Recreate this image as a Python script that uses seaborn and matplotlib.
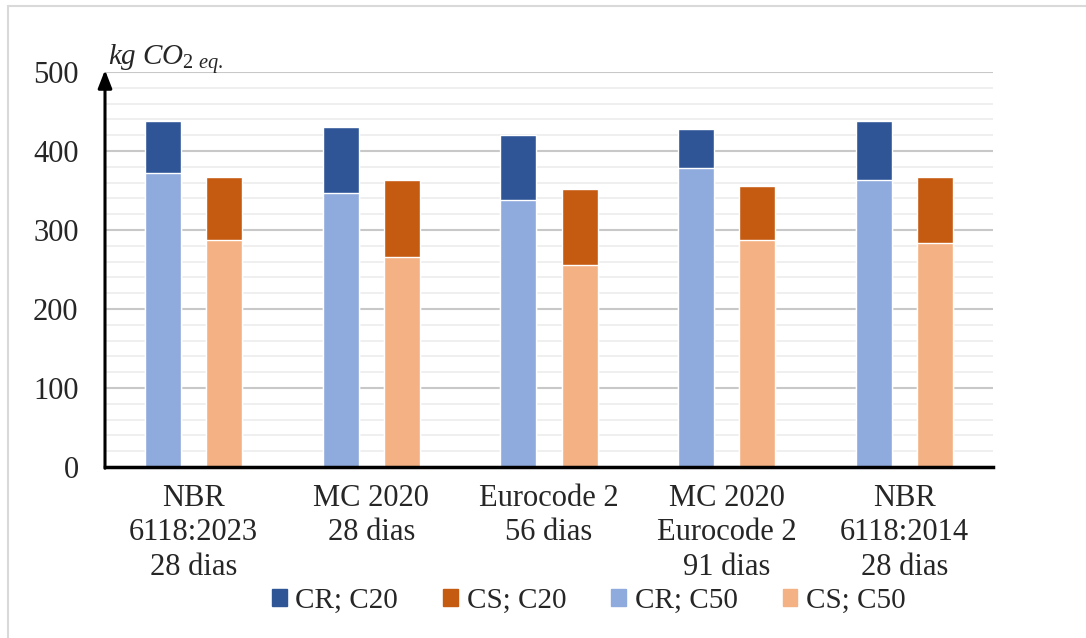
import matplotlib
matplotlib.use("Agg")
import matplotlib.pyplot as plt
import matplotlib.patches as mpatches
from matplotlib.lines import Line2D
import seaborn as sns
import pandas as pd

categories = ["NBR\n6118:2023\n28 dias", "MC 2020\n28 dias", "Eurocode 2\n56 dias",
              "MC 2020\nEurocode 2\n91 dias", "NBR\n6118:2014\n28 dias"]
cr_c20 = [438, 430, 420, 428, 438]
cs_c20 = [367, 363, 352, 356, 367]
cr_c50 = [372, 347, 338, 378, 363]
cs_c50 = [287, 266, 256, 287, 284]
yticks = [0, 100, 200, 300, 400, 500]

sns.set_theme(style="white")
plt.rcParams['font.family'] = ['Liberation Serif', 'DejaVu Serif']
plt.rcParams['mathtext.fontset'] = 'custom'
plt.rcParams['mathtext.it'] = 'Liberation Serif:italic'
plt.rcParams['mathtext.rm'] = 'Liberation Serif'

df20 = pd.DataFrame({"cat": categories * 2, "tipo": ["CR"] * 5 + ["CS"] * 5, "v": cr_c20 + cs_c20})
df50 = pd.DataFrame({"cat": categories * 2, "tipo": ["CR"] * 5 + ["CS"] * 5, "v": cr_c50 + cs_c50})

fig = plt.figure(figsize=(10.86, 6.38), dpi=100)
ax = fig.add_axes([105 / 1086, 1 - 467 / 638, 888 / 1086, 395 / 638])

ax.yaxis.set_minor_locator(matplotlib.ticker.MultipleLocator(20))
ax.grid(which='minor', axis='y', color='#ececec', lw=1.2, zorder=0)
ax.grid(which='major', axis='y', color='#c8c8c8', lw=1.5, zorder=0)
ax.set_axisbelow(True)

sns.barplot(data=df20, x="cat", y="v", hue="tipo", palette=["#2F5597", "#C55A11"],
            width=0.688, gap=0.41, dodge=True, ax=ax, legend=False, saturation=1,
            errorbar=None, zorder=2)
sns.barplot(data=df50, x="cat", y="v", hue="tipo", palette=["#8FAADC", "#F4B183"],
            width=0.688, gap=0.41, dodge=True, ax=ax, legend=False, saturation=1,
            errorbar=None, zorder=3)

ax.set_xlim(-0.5, 4.5)
ax.set_ylim(0, 500)
ax.set_yticks(yticks)
ax.set_yticklabels([str(t) for t in yticks], fontsize=22)
ax.tick_params(axis='x', labelsize=22, length=0, pad=12)
ax.tick_params(axis='y', length=0, pad=19)
for lab in ax.get_xticklabels():
    lab.set_linespacing(1.25)
ax.set_xlabel("")
ax.set_ylabel("")
for s in ["top", "right"]:
    ax.spines[s].set_visible(False)
ax.spines["left"].set_visible(False)
ax.spines["bottom"].set_color("black")
ax.spines["bottom"].set_linewidth(2.5)
ax.spines["bottom"].set_zorder(5)

# vertical axis with arrow
ax.annotate("", xy=(0, 1.005), xycoords='axes fraction', xytext=(0, -0.003),
            textcoords='axes fraction',
            arrowprops=dict(arrowstyle="-|>,head_width=0.35,head_length=0.9", color="black",
                            lw=2.2, shrinkA=0, shrinkB=0), zorder=6)

fig.text(108 / 1086, 1 - 59 / 638, r"$kg\ CO_{2\ eq.}$", fontsize=21, ha='left', va='center')

handles = [mpatches.Patch(color=c, label=l) for c, l in
           zip(["#2F5597", "#C55A11", "#8FAADC", "#F4B183"],
               ["CR; C20", "CS; C20", "CR; C50", "CS; C50"])]
fig.legend(handles=handles, loc='center', bbox_to_anchor=(589 / 1086, 1 - 601 / 638), ncol=4,
           frameon=False, fontsize=21, handlelength=0.5, handleheight=0.5,
           handletextpad=0.3, columnspacing=1.55)

# outer frame (left and top)
fig.add_artist(Line2D([8 / 1086, 8 / 1086], [0, 1 - 6 / 638], color='#d9d9d9', lw=1.5))
fig.add_artist(Line2D([8 / 1086, 1], [1 - 6 / 638, 1 - 6 / 638], color='#d9d9d9', lw=1.5))

fig.savefig("out.png", dpi=100)
